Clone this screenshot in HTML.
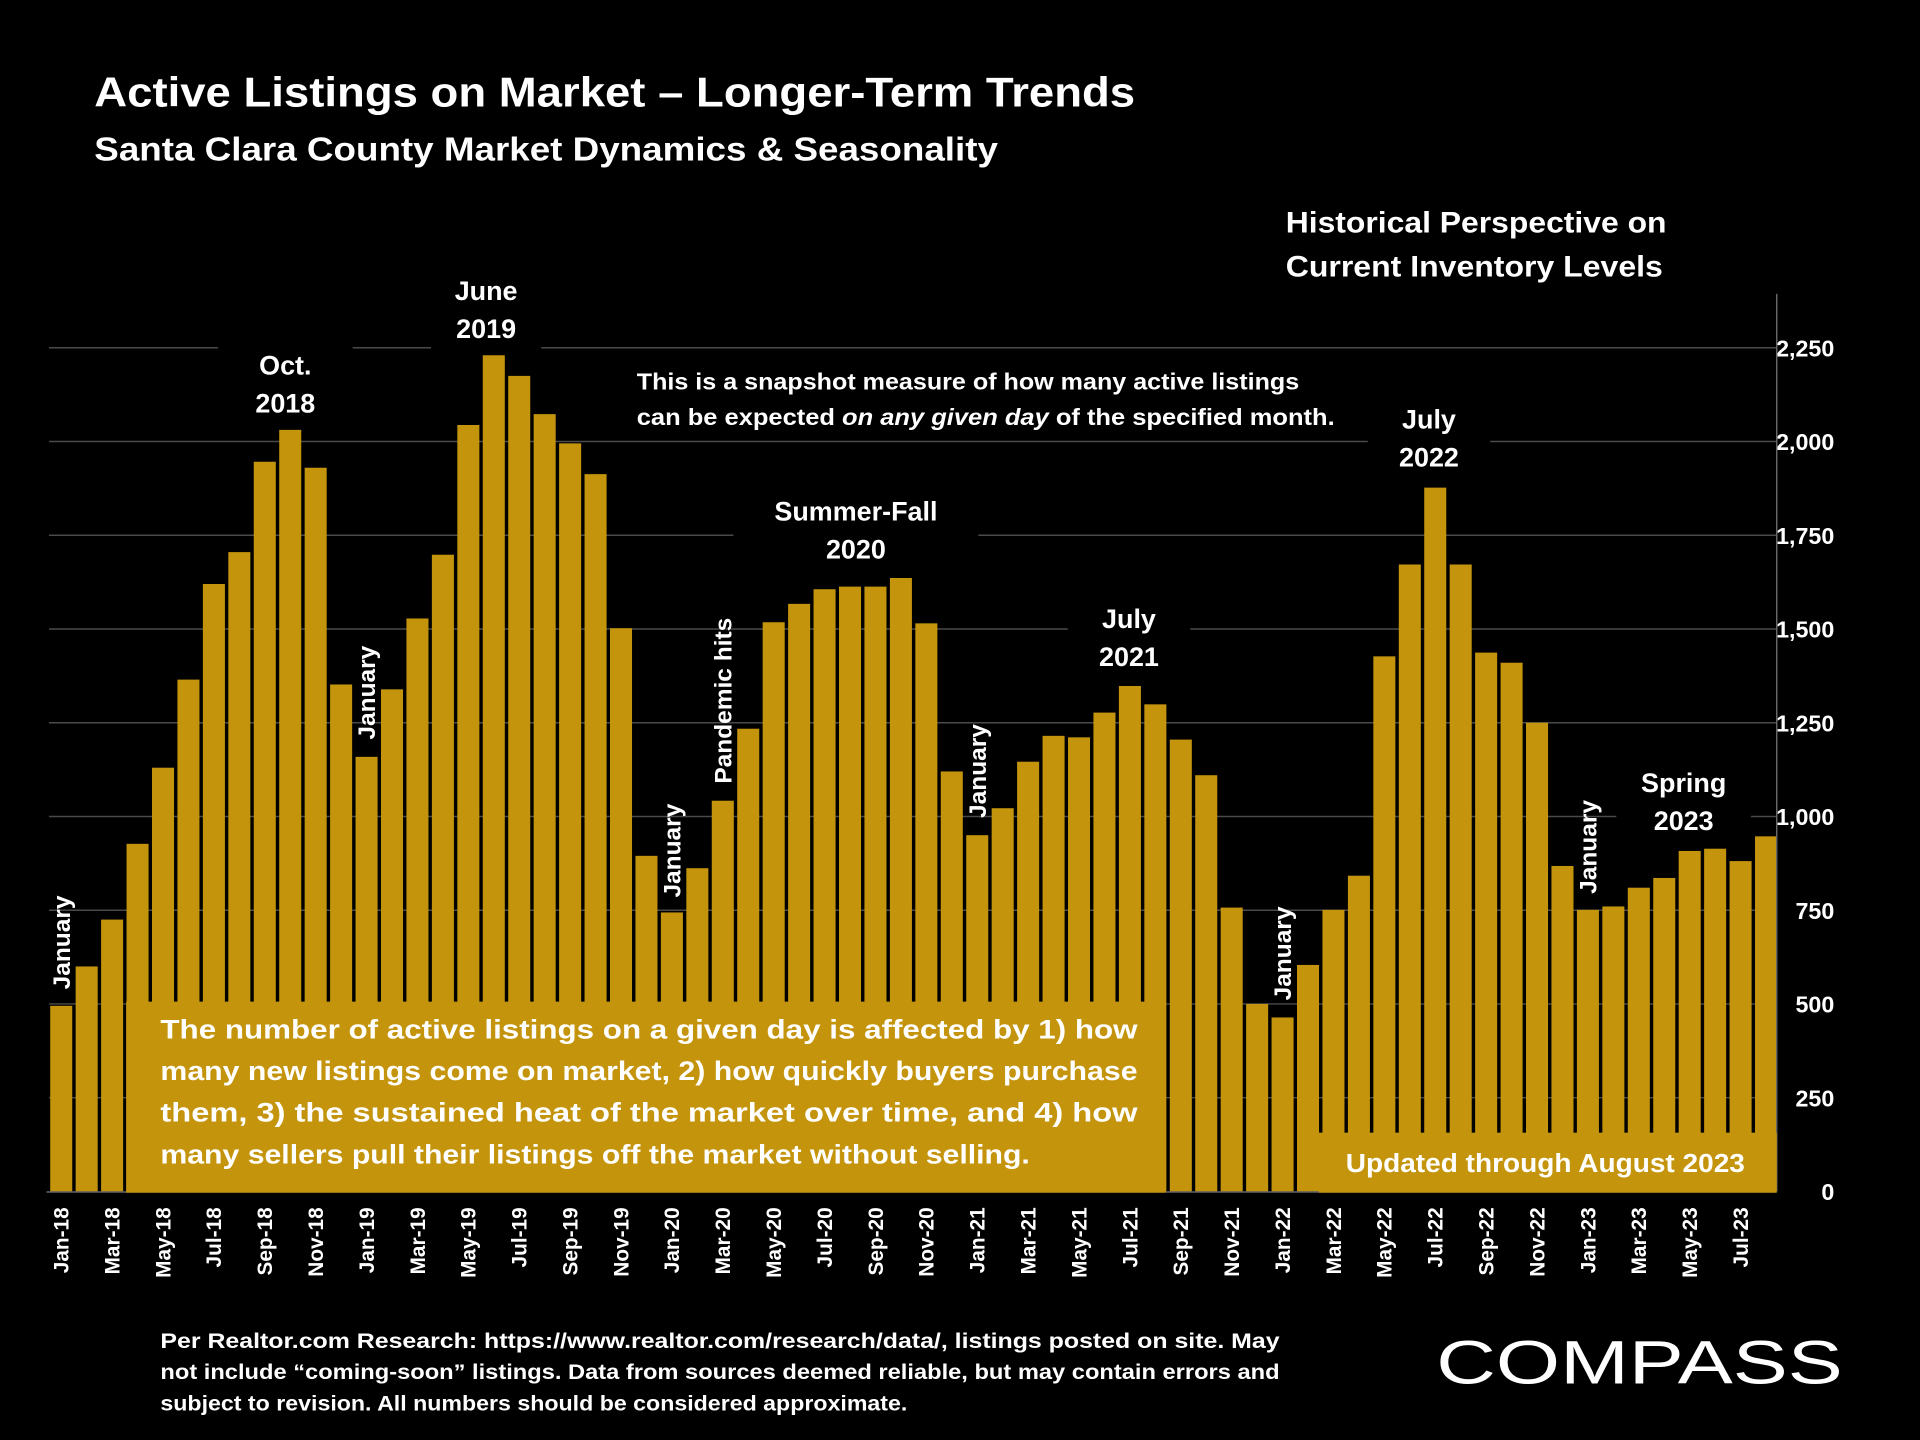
<!DOCTYPE html>
<html><head><meta charset="utf-8"><style>
html,body{margin:0;padding:0;background:#000;}
svg{display:block;}
text{font-family:"Liberation Sans",sans-serif;font-weight:bold;fill:#fff;}
</style></head><body>
<svg id="chart" width="1920" height="1440" viewBox="0 0 1568 1176" xmlns="http://www.w3.org/2000/svg">
<rect width="1568" height="1176" fill="#000"/>
<text x="77" y="87" font-size="34" textLength="850" lengthAdjust="spacingAndGlyphs">Active Listings on Market – Longer-Term Trends</text>
<text x="77" y="131" font-size="27" textLength="738" lengthAdjust="spacingAndGlyphs">Santa Clara County Market Dynamics &amp; Seasonality</text>
<g id="grid"></g>
<g id="bars"></g>
<g id="axis"></g>
<g id="annot"></g>
<text x="131" y="1101" font-size="17" textLength="914" lengthAdjust="spacingAndGlyphs">Per Realtor.com Research:  https://www.realtor.com/research/data/, listings posted on site. May</text>
<text x="131" y="1126" font-size="17" textLength="914" lengthAdjust="spacingAndGlyphs">not include “coming-soon” listings. Data from sources deemed reliable, but may contain errors and</text>
<text x="131" y="1152" font-size="17" textLength="610" lengthAdjust="spacingAndGlyphs">subject to revision. All numbers should be considered approximate.</text>
<text x="1173" y="1130" font-size="50" style="font-weight:normal" textLength="332" lengthAdjust="spacingAndGlyphs">COMPASS</text>
</svg>
<script>
const categories=["Jan-18","Feb-18","Mar-18","Apr-18","May-18","Jun-18","Jul-18","Aug-18","Sep-18","Oct-18","Nov-18","Dec-18",
"Jan-19","Feb-19","Mar-19","Apr-19","May-19","Jun-19","Jul-19","Aug-19","Sep-19","Oct-19","Nov-19","Dec-19",
"Jan-20","Feb-20","Mar-20","Apr-20","May-20","Jun-20","Jul-20","Aug-20","Sep-20","Oct-20","Nov-20","Dec-20",
"Jan-21","Feb-21","Mar-21","Apr-21","May-21","Jun-21","Jul-21","Aug-21","Sep-21","Oct-21","Nov-21","Dec-21",
"Jan-22","Feb-22","Mar-22","Apr-22","May-22","Jun-22","Jul-22","Aug-22","Sep-22","Oct-22","Nov-22","Dec-22",
"Jan-23","Feb-23","Mar-23","Apr-23","May-23","Jun-23","Jul-23","Aug-23"];
const values=[495,600,725,927,1130,1365,1620,1705,1946,2031,1930,1352,
1159,1339,1528,1698,2044,2230,2175,2073,1995,1913,1502,895,
744,862,1042,1234,1518,1567,1606,1613,1613,1636,1515,1120,
950,1022,1146,1215,1211,1277,1348,1299,1205,1110,757,500,
464,604,751,842,1427,1672,1877,1672,1437,1410,1250,868,
751,760,810,836,908,914,881,947];
const yTicks=[0,250,500,750,1000,1250,1500,1750,2000,2250];
const yTickLabels=["0","250","500","750","1,000","1,250","1,500","1,750","2,000","2,250"];

const NS="http://www.w3.org/2000/svg";
const X0=50,PITCH=20.78,BW=18,Y0=973,YMAX=2250,YTOP=284;
const y=v=>Y0-(v/YMAX)*(Y0-YTOP);
const x=i=>X0+i*PITCH;
function mk(tag,attrs,parent,txt){const e=document.createElementNS(NS,tag);for(const k in attrs)e.setAttribute(k,attrs[k]);if(txt!==undefined)e.textContent=txt;parent.appendChild(e);return e;}
const grid=document.getElementById('grid'),bars=document.getElementById('bars'),axis=document.getElementById('axis'),annot=document.getElementById('annot');

yTicks.forEach((t,i)=>{
  if(t>0){const l=mk('line',{x1:40,x2:1451,y1:y(t),y2:y(t),stroke:'#4a4a4a','stroke-width':1.2},grid);
  
  }
  const tx=mk('text',{x:1498,y:y(t)+7,'font-size':19,'text-anchor':'end'},axis,yTickLabels[i]);
  
  
});
mk('line',{x1:1451,x2:1451,y1:240,y2:973,stroke:'#666','stroke-width':1.2},axis);
mk('line',{x1:38,x2:1451,y1:973.5,y2:973.5,stroke:'#666','stroke-width':1.2},axis);

values.forEach((v,i)=>{
  const r=mk('rect',{x:x(i)-BW/2,y:y(v),width:BW,height:Y0-y(v),fill:'#C4940C'},bars);
  
  
  if(i%2===0){
    const t=mk('text',{transform:`translate(${x(i)+6},${986}) rotate(-90)`,'font-size':17,'text-anchor':'end'},axis,categories[i]);
    
    
  }
});

// annotation boxes
function box(xa,ya,w,h,fill,name){const r=mk('rect',{x:xa,y:ya,width:w,height:h,fill:fill},annot);return r;}
box(103,818,849,156,'#C4940C','explanation-box');
const exp=["The number of active listings on a given day is affected by 1) how","many new listings come on market, 2) how quickly buyers purchase","them, 3) the sustained heat of the market over time, and 4) how","many sellers pull their listings off the market without selling."];
exp.forEach((s,i)=>{const t=mk('text',{x:131,y:848+i*34,'font-size':22,textLength:i<3?798:710,lengthAdjust:'spacingAndGlyphs'},annot,s);

});
box(1077,925,374,49,'#C4940C','updated-box');
const up=mk('text',{x:1099,y:957,'font-size':21,textLength:326,lengthAdjust:'spacingAndGlyphs'},annot,'Updated through August 2023');



// black-backed labels
function label(lines,cx,top,w,name,fs){box(cx-w/2,top-4,w,lines.length*31+6,'#000',name+'-bg');
  lines.forEach((s,i)=>{const t=mk('text',{x:cx,y:top+22+i*31,'font-size':fs||22,'text-anchor':'middle'},annot,s);
  
  });}
label(["Oct.","2018"],233,284,110,'oct-2018-label');
label(["June","2019"],397,223,90,'june-2019-label');
label(["Summer-Fall","2020"],699,403,200,'summer-fall-2020-label');
label(["July","2021"],922,491,100,'july-2021-label');
label(["July","2022"],1167,328,100,'july-2022-label');
label(["Spring","2023"],1375,625,110,'spring-2023-label');
box(505,296,600,60,'#000','snapshot-bg');
const s1=mk('text',{x:520,y:318,'font-size':19,textLength:541,lengthAdjust:'spacingAndGlyphs'},annot,'This is a snapshot measure of how many active listings');


const s2=mk('text',{x:520,y:347,'font-size':19,textLength:570,lengthAdjust:'spacingAndGlyphs'},annot);


s2.innerHTML='can be expected <tspan font-style="italic">on any given day</tspan> of the specified month.';
const h1=mk('text',{x:1050,y:190,'font-size':24,textLength:311,lengthAdjust:'spacingAndGlyphs'},annot,'Historical Perspective on');


const h2=mk('text',{x:1050,y:226,'font-size':24,textLength:308,lengthAdjust:'spacingAndGlyphs'},annot,'Current Inventory Levels');



// vertical labels
function vlabel(s,cx,bottom,name){const t=mk('text',{transform:`translate(${cx},${bottom}) rotate(-90)`,'font-size':20},annot,s);

}
vlabel('January',x(0)+7,808,'january-label');
vlabel('January',x(12)+7,604,'january-label');
vlabel('January',x(24)+7,733,'january-label');
vlabel('Pandemic hits',x(26)+7,640,'pandemic-label');
vlabel('January',x(36)+7,668,'january-label');
vlabel('January',x(48)+7,817,'january-label');
vlabel('January',x(60)+7,730,'january-label');
</script>
</body></html>
